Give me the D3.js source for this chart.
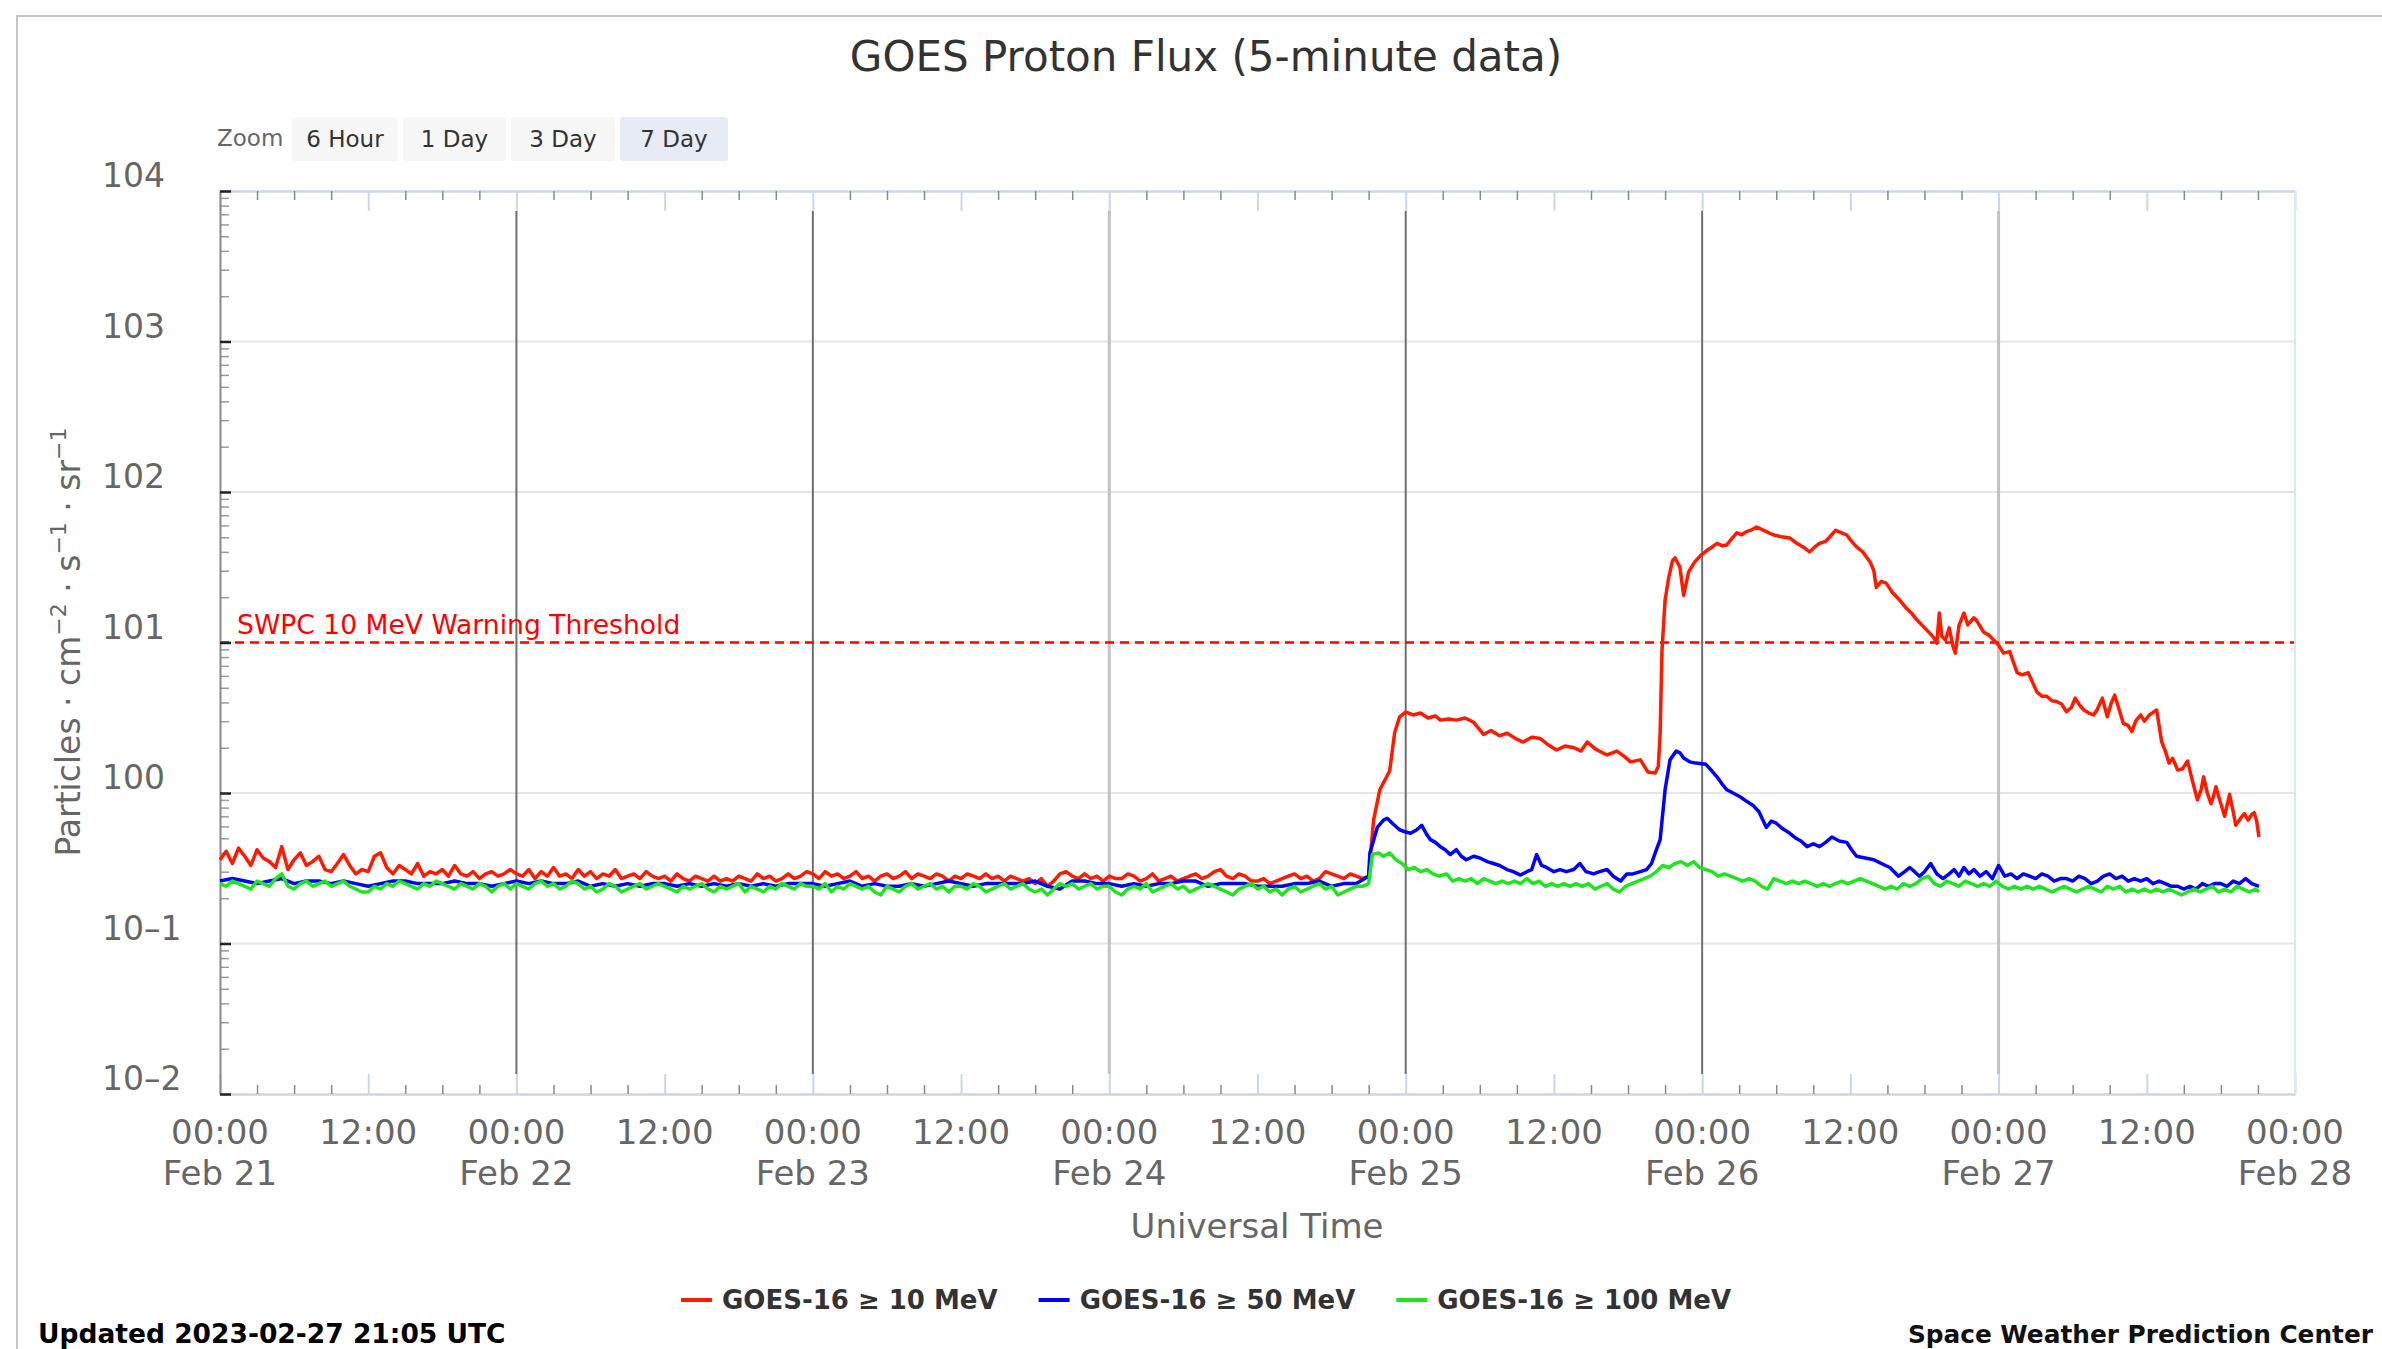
<!DOCTYPE html>
<html lang="en">
<head>
<meta charset="utf-8">
<title>GOES Proton Flux (5-minute data)</title>
<script src="https://d3js.org/d3.v7.min.js"></script>
<style>
  body { margin: 0; background: #fff; }
  svg text { font-family: "DejaVu Sans", Verdana, sans-serif; }
</style>
</head>
<body>
<script>

// ---- data (hours since 2023-02-21 00:00 UTC, flux in pfu) ----
// quiet period before the first event: >=10 and >=100 MeV every 30 min, >=50 MeV every hour
var quiet10 = [0.36,0.41,0.34,0.43,0.38,0.33,0.42,0.37,0.35,0.32,0.44,0.31,0.36,0.40,0.33,0.35,0.38,0.31,0.30,0.34,0.39,0.33,0.29,0.31,
  0.30,0.38,0.40,0.32,0.29,0.33,0.31,0.29,0.34,0.28,0.30,0.29,0.31,0.28,0.33,0.29,0.28,0.30,0.27,0.29,0.30,0.28,0.29,0.31,
  0.29,0.28,0.31,0.27,0.30,0.28,0.32,0.28,0.29,0.27,0.31,0.28,0.30,0.27,0.29,0.28,0.31,0.27,0.28,0.29,0.27,0.30,0.28,0.27,
  0.28,0.26,0.29,0.27,0.26,0.28,0.27,0.26,0.28,0.26,0.27,0.26,0.28,0.27,0.26,0.29,0.27,0.28,0.26,0.27,0.29,0.27,0.28,0.30,
  0.29,0.27,0.30,0.28,0.29,0.27,0.28,0.30,0.27,0.28,0.26,0.28,0.29,0.27,0.28,0.30,0.27,0.29,0.28,0.27,0.29,0.28,0.26,0.28,
  0.27,0.29,0.28,0.27,0.29,0.27,0.28,0.26,0.28,0.27,0.26,0.27,0.25,0.27,0.24,0.26,0.29,0.30,0.28,0.27,0.29,0.27,0.28,0.26,
  0.28,0.27,0.27,0.29,0.28,0.26,0.27,0.29,0.26,0.27,0.28,0.26,0.27,0.28,0.29,0.27,0.28,0.30,0.31,0.28,0.27,0.29,0.28,0.26,
  0.26,0.27,0.25,0.26,0.27,0.28,0.29,0.27,0.28,0.26,0.27,0.30,0.29,0.28,0.27,0.29,0.28,0.27];
var quiet50 = [0.26,0.27,0.26,0.25,0.26,0.27,0.25,0.26,0.26,0.25,0.26,0.25,0.24,0.25,0.26,0.26,0.25,0.25,0.25,0.26,
  0.25,0.25,0.24,0.25,0.26,0.25,0.26,0.25,0.25,0.26,0.24,0.25,0.24,0.25,0.24,0.25,0.25,0.24,0.25,0.24,
  0.25,0.24,0.25,0.24,0.25,0.24,0.25,0.25,0.25,0.24,0.25,0.26,0.24,0.25,0.24,0.24,0.25,0.24,0.25,0.26,
  0.25,0.24,0.25,0.25,0.25,0.25,0.26,0.24,0.23,0.26,0.26,0.25,0.25,0.24,0.25,0.24,0.25,0.25,0.26,0.26,
  0.24,0.25,0.25,0.25,0.24,0.24,0.24,0.25,0.25,0.26,0.24,0.25,0.25];
var quiet100 = [0.25,0.24,0.26,0.25,0.24,0.23,0.26,0.25,0.24,0.27,0.29,0.24,0.23,0.25,0.26,0.24,0.25,0.26,0.24,0.25,0.26,0.24,0.23,0.22,
  0.22,0.24,0.23,0.25,0.24,0.26,0.25,0.24,0.23,0.25,0.24,0.26,0.25,0.24,0.23,0.25,0.24,0.23,0.25,0.24,0.22,0.24,0.25,0.23,
  0.25,0.24,0.23,0.25,0.26,0.24,0.25,0.23,0.24,0.26,0.25,0.23,0.24,0.22,0.23,0.25,0.24,0.22,0.23,0.24,0.25,0.23,0.24,0.25,
  0.24,0.23,0.22,0.24,0.23,0.24,0.25,0.23,0.22,0.24,0.23,0.24,0.25,0.22,0.24,0.23,0.22,0.24,0.23,0.25,0.24,0.23,0.25,0.24,
  0.24,0.23,0.25,0.22,0.24,0.23,0.25,0.24,0.23,0.24,0.22,0.21,0.24,0.23,0.22,0.24,0.25,0.23,0.24,0.25,0.23,0.24,0.22,0.24,
  0.24,0.23,0.25,0.24,0.22,0.23,0.24,0.25,0.23,0.24,0.25,0.23,0.22,0.23,0.21,0.23,0.25,0.24,0.25,0.23,0.24,0.25,0.23,0.24,
  0.24,0.22,0.21,0.23,0.24,0.23,0.25,0.22,0.23,0.24,0.25,0.23,0.24,0.22,0.23,0.24,0.25,0.24,0.23,0.22,0.21,0.23,0.24,0.25,
  0.23,0.24,0.22,0.23,0.21,0.23,0.24,0.22,0.23,0.24,0.25,0.23,0.24,0.21,0.22,0.23,0.24,0.24];
var quietStep = [0.5, 1, 0.5];

// event period, [hour, flux]
var event10 = [[93.0,0.28],[93.4,0.66],[93.9,1.05],[94.7,1.4],[95.1,2.5],[95.5,3.2],[96.0,3.45],[96.6,3.3],[97.2,3.4],
  [97.8,3.15],[98.4,3.25],[98.8,3.05],[99.5,3.1],[100.1,3.05],[100.8,3.15],[101.5,2.95],[102.3,2.45],[102.9,2.6],
  [103.6,2.4],[104.2,2.5],[104.9,2.3],[105.5,2.18],[106.2,2.35],[106.9,2.3],[107.5,2.1],[108.2,1.93],[108.9,2.05],
  [109.6,2.0],[110.2,1.9],[110.7,2.18],[111.4,1.95],[112.3,1.79],[113.1,1.9],[113.7,1.75],[114.2,1.61],[115.0,1.66],
  [115.6,1.38],[116.2,1.36],[116.45,1.5],[116.6,2.5],[116.75,8.9],[117.0,19.1],[117.3,27.2],[117.6,35],[117.8,36.5],
  [118.2,31.6],[118.5,20.6],[118.9,29.4],[119.4,34.3],[119.9,38],[120.4,41],[120.8,43],[121.2,45.6],[121.6,44],
  [122.0,44.5],[122.4,49],[122.8,53.5],[123.2,52],[123.6,54.6],[124.0,56],[124.4,58.5],[124.9,56],[125.4,53.5],
  [125.8,51.8],[126.4,50.5],[127.1,49.4],[127.6,46],[128.2,43],[128.7,40],[129.1,43],[129.5,45.6],[130.0,47],
  [130.4,51],[130.8,55.6],[131.2,54],[131.7,51.8],[132.1,47],[132.5,43.2],[133.0,40],[133.6,34.3],[133.9,30],
  [134.1,23.2],[134.5,25.5],[134.9,24.8],[135.4,21.5],[136.0,19.1],[136.5,17],[137.0,15.5],[137.4,14.1],[137.9,12.8],
  [138.3,11.8],[138.7,10.9],[139.0,9.9],[139.2,15.7],[139.4,11],[139.7,10.4],[140.0,12.5],[140.3,9.5],[140.5,8.5],
  [140.8,13],[141.2,15.7],[141.5,13.1],[142.0,14.6],[142.2,14.1],[142.8,11.7],[143.2,11.2],[143.6,10.4],[144.0,9.6],
  [144.4,8.5],[144.9,8.7],[145.5,6.3],[145.9,6.1],[146.4,6.3],[147.1,4.7],[147.5,4.4],[147.9,4.4],[148.3,4.1],
  [148.7,4.05],[149.1,3.9],[149.5,3.47],[149.9,3.7],[150.2,4.27],[150.6,3.8],[150.9,3.56],[151.3,3.4],[151.7,3.3],
  [152.0,3.6],[152.4,4.27],[152.8,3.21],[153.1,3.9],[153.4,4.47],[153.8,3.5],[154.1,2.9],[154.5,2.8],[154.8,2.56],
  [155.1,3.0],[155.5,3.3],[155.8,3.0],[156.2,3.3],[156.8,3.56],[157.2,2.19],[157.5,1.9],[157.8,1.58],[158.1,1.7],
  [158.5,1.42],[158.9,1.45],[159.3,1.63],[159.7,1.2],[160.1,0.9],[160.4,1.05],[160.6,1.28],[160.9,1.0],[161.2,0.85],
  [161.4,0.95],[161.6,1.1],[161.9,0.9],[162.3,0.70],[162.7,0.98],[163.0,0.75],[163.2,0.61],[163.6,0.68],[163.9,0.73],
  [164.2,0.66],[164.5,0.72],[164.7,0.74],[164.9,0.65],[165.08,0.51]];

var event50 = [[93.0,0.28],[93.1,0.4],[93.7,0.59],[94.2,0.66],[94.5,0.68],[95.0,0.62],[95.5,0.57],[96.0,0.55],[96.4,0.54],
  [96.9,0.57],[97.3,0.61],[97.7,0.53],[98.0,0.49],[98.4,0.47],[98.8,0.44],[99.2,0.42],[99.6,0.39],[100.1,0.42],
  [100.5,0.38],[100.9,0.36],[101.5,0.38],[102.0,0.37],[102.6,0.35],[103.1,0.34],[103.6,0.33],[104.2,0.31],[104.7,0.30],
  [105.3,0.285],[105.8,0.30],[106.2,0.31],[106.6,0.39],[107.0,0.33],[107.4,0.32],[108.0,0.30],[108.5,0.31],[109.0,0.30],
  [109.6,0.31],[110.1,0.34],[110.6,0.30],[111.2,0.29],[111.7,0.30],[112.3,0.31],[112.8,0.28],[113.4,0.26],[113.9,0.29],
  [114.4,0.29],[115.0,0.30],[115.5,0.31],[115.9,0.34],[116.2,0.40],[116.6,0.49],[117.0,1.05],[117.4,1.66],[117.9,1.9],
  [118.2,1.85],[118.5,1.71],[119.0,1.61],[119.5,1.58],[120.3,1.55],[120.8,1.4],[121.2,1.28],[121.6,1.15],[122.0,1.05],
  [122.5,1.0],[123.1,0.94],[123.6,0.88],[124.1,0.83],[124.6,0.75],[125.2,0.59],[125.6,0.65],[126.0,0.63],[126.5,0.58],
  [127.1,0.54],[127.6,0.5],[128.0,0.48],[128.5,0.44],[129.0,0.46],[129.5,0.44],[130.0,0.47],[130.5,0.51],[131.1,0.48],
  [131.7,0.47],[132.1,0.42],[132.5,0.38],[133.2,0.37],[133.9,0.36],[134.5,0.34],[135.2,0.32],[135.9,0.28],[136.4,0.30],
  [136.8,0.32],[137.2,0.30],[137.6,0.28],[138.0,0.30],[138.5,0.34],[139.0,0.29],[139.5,0.27],[140.0,0.29],[140.4,0.31],
  [140.8,0.28],[141.2,0.32],[141.6,0.29],[142.0,0.31],[142.5,0.28],[143.0,0.30],[143.5,0.27],[144.0,0.33],[144.5,0.28],
  [145.0,0.29],[145.5,0.27],[146.0,0.29],[146.5,0.28],[147.0,0.27],[147.5,0.29],[148.0,0.28],[148.5,0.26],[149.0,0.27],
  [149.5,0.27],[150.0,0.26],[150.5,0.28],[151.0,0.27],[151.5,0.25],[152.0,0.26],[152.5,0.28],[153.0,0.29],[153.5,0.27],
  [154.0,0.28],[154.5,0.26],[155.0,0.27],[155.5,0.26],[156.0,0.27],[156.5,0.25],[157.0,0.26],[157.5,0.25],[158.0,0.24],
  [158.5,0.24],[159.0,0.23],[159.5,0.24],[160.0,0.23],[160.5,0.25],[161.0,0.24],[161.5,0.25],[162.0,0.25],[162.5,0.24],
  [163.0,0.26],[163.5,0.25],[164.0,0.27],[164.5,0.25],[165.08,0.24]];

var event100 = [[93.0,0.25],[93.3,0.39],[93.8,0.40],[94.2,0.38],[94.7,0.40],[95.2,0.36],[95.7,0.34],[96.2,0.31],[96.7,0.32],
  [97.2,0.30],[97.7,0.31],[98.2,0.29],[98.7,0.28],[99.3,0.29],[99.8,0.26],[100.3,0.27],[100.8,0.26],[101.3,0.27],
  [101.8,0.25],[102.3,0.27],[102.8,0.26],[103.3,0.25],[103.8,0.26],[104.3,0.25],[104.8,0.26],[105.3,0.25],[105.8,0.27],
  [106.3,0.25],[106.8,0.26],[107.3,0.24],[107.8,0.25],[108.3,0.24],[108.8,0.25],[109.3,0.24],[109.8,0.25],[110.3,0.24],
  [110.8,0.25],[111.3,0.23],[111.8,0.24],[112.3,0.25],[112.8,0.23],[113.3,0.22],[113.8,0.24],[114.3,0.25],[114.8,0.26],
  [115.3,0.27],[115.8,0.28],[116.3,0.30],[116.8,0.33],[117.3,0.32],[117.8,0.34],[118.3,0.35],[118.8,0.33],[119.3,0.35],
  [119.8,0.32],[120.3,0.31],[120.8,0.30],[121.3,0.28],[121.8,0.29],[122.3,0.28],[122.8,0.27],[123.3,0.26],[123.8,0.27],
  [124.3,0.26],[124.8,0.24],[125.3,0.23],[125.8,0.27],[126.3,0.26],[126.8,0.25],[127.3,0.26],[127.8,0.25],[128.3,0.26],
  [128.8,0.25],[129.3,0.24],[129.8,0.25],[130.3,0.24],[130.8,0.25],[131.3,0.26],[131.8,0.25],[132.3,0.26],[132.8,0.27],
  [133.3,0.26],[133.8,0.25],[134.3,0.24],[134.8,0.23],[135.3,0.24],[135.8,0.23],[136.3,0.25],[136.8,0.24],[137.3,0.25],
  [137.8,0.27],[138.3,0.28],[138.8,0.25],[139.3,0.24],[139.8,0.26],[140.3,0.25],[140.8,0.24],[141.3,0.26],[141.8,0.25],
  [142.3,0.24],[142.8,0.25],[143.3,0.24],[143.8,0.26],[144.3,0.24],[144.8,0.23],[145.3,0.24],[145.8,0.23],[146.3,0.24],
  [146.8,0.23],[147.3,0.24],[147.8,0.23],[148.3,0.22],[148.8,0.23],[149.3,0.24],[149.8,0.23],[150.3,0.22],[150.8,0.23],
  [151.3,0.24],[151.8,0.23],[152.3,0.22],[152.8,0.24],[153.3,0.23],[153.8,0.24],[154.3,0.22],[154.8,0.23],[155.3,0.22],
  [155.8,0.23],[156.3,0.22],[156.8,0.23],[157.3,0.22],[157.8,0.23],[158.3,0.22],[158.8,0.21],[159.3,0.22],[159.8,0.23],
  [160.3,0.22],[160.8,0.23],[161.3,0.24],[161.8,0.22],[162.3,0.23],[162.8,0.22],[163.3,0.24],[163.8,0.23],[164.3,0.22],
  [164.8,0.23],[165.08,0.22]];

var seriesNames = ["GOES-16 \u2265 10 MeV", "GOES-16 \u2265 50 MeV", "GOES-16 \u2265 100 MeV"];
var seriesColors = ["#ff1a00", "#0000ff", "#1ee61e"];
var yTickValues = [1e4, 1e3, 1e2, 1e1, 1e0, 1e-1, 1e-2];
var yTickLabels = ["104", "103", "102", "101", "100", "10\u20131", "10\u20132"];
var threshold = 10;
var zoomButtons = ["6 Hour", "1 Day", "3 Day", "7 Day"];

// ---- layout ----
var w = 2382, h = 1349;
var pLeft = 220, pRight = 2295, pTop = 191, pBottom = 1094;
var start = Date.UTC(2023, 1, 21), end = Date.UTC(2023, 1, 28);

function hourDate(hr) { return new Date(start + hr * 3600e3); }

var x = d3.scaleUtc().domain([new Date(start), new Date(end)]).range([pLeft, pRight]);
var y = d3.scaleLog().domain([1e-2, 1e4]).range([pBottom, pTop]);

var svg = d3.select("body").append("svg")
  .attr("width", w).attr("height", h)
  .style("display", "block");

// outer frame
svg.append("rect")
  .attr("x", 17).attr("y", 16).attr("width", 2440).attr("height", 1400)
  .attr("fill", "none").attr("stroke", "#c4c4c4").attr("stroke-width", 2);

// title
svg.append("text")
  .attr("x", 1206).attr("y", 71)
  .attr("text-anchor", "middle")
  .style("font-size", "42px").attr("fill", "#333")
  .text("GOES Proton Flux (5-minute data)");

// range selector buttons
svg.append("text")
  .attr("x", 217).attr("y", 146)
  .style("font-size", "23px").attr("fill", "#666")
  .text("Zoom");
var btnX = [292, 403, 511, 620], btnW = [106, 103, 104, 108];
var btn = svg.selectAll("g.btn").data(zoomButtons).enter().append("g").attr("class", "btn");
btn.append("rect")
  .attr("x", function(d, i) { return btnX[i]; })
  .attr("y", 117).attr("width", function(d, i) { return btnW[i]; }).attr("height", 44)
  .attr("rx", 3)
  .attr("fill", function(d, i) { return i == 3 ? "#e6ebf5" : "#f7f7f7"; });
btn.append("text")
  .attr("x", function(d, i) { return btnX[i] + btnW[i] / 2; })
  .attr("y", 147)
  .attr("text-anchor", "middle")
  .style("font-size", "23px").attr("fill", "#333")
  .text(function(d) { return d; });

// horizontal grid at decades
svg.append("g").selectAll("line")
  .data(yTickValues.slice(1, -1))
  .enter().append("line")
  .attr("x1", pLeft).attr("x2", pRight)
  .attr("y1", function(d) { return y(d); }).attr("y2", function(d) { return y(d); })
  .attr("stroke", "#e6e6e6").attr("stroke-width", 2);

// midnight plot lines
var days = d3.utcDay.range(new Date(start + 1), new Date(end));
svg.append("g").selectAll("line")
  .data(days)
  .enter().append("line")
  .attr("x1", function(d) { return x(d); }).attr("x2", function(d) { return x(d); })
  .attr("y1", pTop + 20).attr("y2", pBottom - 20)
  .attr("stroke", function(d, i) { return (i == 2 || i == 5) ? "#c2c2c2" : "#6f6f6f"; })
  .attr("stroke-width", function(d, i) { return (i == 2 || i == 5) ? 3 : 2; });

// warning threshold
svg.append("line")
  .attr("x1", pLeft).attr("x2", pRight)
  .attr("y1", y(threshold)).attr("y2", y(threshold))
  .attr("stroke", "#ff0000").attr("stroke-width", 2.5)
  .attr("stroke-dasharray", "9,6");
svg.append("text")
  .attr("x", 237).attr("y", y(threshold) - 9)
  .style("font-size", "26.6px").attr("fill", "#ff0000")
  .text("SWPC 10 MeV Warning Threshold");

// axes: bottom and top (time)
var ticks12 = d3.utcHour.every(12).range(new Date(start), new Date(end + 1));
var ticks3 = d3.utcHour.every(3).range(new Date(start), new Date(end + 1))
  .filter(function(d) { return d.getUTCHours() % 12 != 0; });

function styleTimeAxis(g) {
  g.select(".domain").attr("stroke", "#ccd6eb").attr("stroke-width", 2);
  g.selectAll(".tick line").attr("stroke-width", 2);
  g.selectAll(".tick text").remove();
}

var xMajB = svg.append("g").attr("transform", "translate(0," + pBottom + ")")
  .call(d3.axisBottom(x).tickValues(ticks12).tickSize(-20).tickSizeOuter(0).tickFormat(""));
styleTimeAxis(xMajB);
xMajB.selectAll(".tick line").attr("stroke", "#ccd6eb");
var xMinB = svg.append("g").attr("transform", "translate(0," + pBottom + ")")
  .call(d3.axisBottom(x).tickValues(ticks3).tickSize(-9).tickSizeOuter(0).tickFormat(""));
styleTimeAxis(xMinB);
xMinB.selectAll(".tick line").attr("stroke", "#8a8a8a").attr("stroke-width", 1.5);

var xMajT = svg.append("g").attr("transform", "translate(0," + pTop + ")")
  .call(d3.axisTop(x).tickValues(ticks12).tickSize(-20).tickSizeOuter(0).tickFormat(""));
styleTimeAxis(xMajT);
xMajT.selectAll(".tick line").attr("stroke", "#ccd6eb");
var xMinT = svg.append("g").attr("transform", "translate(0," + pTop + ")")
  .call(d3.axisTop(x).tickValues(ticks3).tickSize(-9).tickSizeOuter(0).tickFormat(""));
styleTimeAxis(xMinT);
xMinT.selectAll(".tick line").attr("stroke", "#8a8a8a").attr("stroke-width", 1.5);

// right border
svg.append("line")
  .attr("x1", pRight).attr("x2", pRight).attr("y1", pTop).attr("y2", pBottom)
  .attr("stroke", "#dfe6f3").attr("stroke-width", 2);

// time labels
var fmtTime = d3.utcFormat("%H:%M"), fmtDay = d3.utcFormat("%b %d");
var xl = svg.append("g").selectAll("text")
  .data(ticks12).enter().append("text")
  .attr("text-anchor", "middle")
  .style("font-size", "34px").attr("fill", "#666");
xl.append("tspan")
  .attr("x", function(d) { return x(d); }).attr("y", 1144)
  .text(fmtTime);
xl.filter(function(d) { return d.getUTCHours() == 0; })
  .append("tspan")
  .attr("x", function(d) { return x(d); }).attr("y", 1185)
  .text(fmtDay);

svg.append("text")
  .attr("x", 1257).attr("y", 1238)
  .attr("text-anchor", "middle")
  .style("font-size", "34px").attr("fill", "#666")
  .text("Universal Time");

// y axis (log)
var minorTicks = [];
for (var e = -2; e < 4; e++) for (var m = 2; m < 10; m++) minorTicks.push(m * Math.pow(10, e));

var yMin = svg.append("g").attr("transform", "translate(" + pLeft + ",0)")
  .call(d3.axisRight(y).tickValues(minorTicks).tickSize(9).tickSizeOuter(0).tickFormat(""));
yMin.select(".domain").remove();
yMin.selectAll(".tick line").attr("stroke", "#9a9a9a").attr("stroke-width", 1.5);

var yMaj = svg.append("g").attr("transform", "translate(" + pLeft + ",0)")
  .call(d3.axisRight(y).tickValues(yTickValues).tickSize(11).tickSizeOuter(0).tickFormat(""));
yMaj.select(".domain").attr("stroke", "#8a8a8a").attr("stroke-width", 2);
yMaj.selectAll(".tick line").attr("stroke", "#222").attr("stroke-width", 2.5);

svg.append("g").selectAll("text")
  .data(yTickValues).enter().append("text")
  .attr("x", 102).attr("y", function(d) { return y(d) - 4; })
  .style("font-size", "33px").attr("fill", "#666")
  .text(function(d, i) { return yTickLabels[i]; });

// y axis title
var yt = svg.append("text")
  .attr("transform", "translate(80,642) rotate(-90)")
  .attr("text-anchor", "middle")
  .style("font-size", "33px").attr("fill", "#666");
yt.append("tspan").text("Particles \u00b7 cm");
yt.append("tspan").attr("dy", -14).style("font-size", "22px").text("\u22122");
yt.append("tspan").attr("dy", 14).text(" \u00b7 s");
yt.append("tspan").attr("dy", -14).style("font-size", "22px").text("\u22121");
yt.append("tspan").attr("dy", 14).text(" \u00b7 sr");
yt.append("tspan").attr("dy", -14).style("font-size", "22px").text("\u22121");

// series
var quiet = [quiet10, quiet50, quiet100], events = [event10, event50, event100];
var series = quiet.map(function(q, k) {
  return q.map(function(v, i) { return [i * quietStep[k], v]; }).concat(events[k]);
});

var line = d3.line()
  .x(function(d) { return x(hourDate(d[0])); })
  .y(function(d) { return y(d[1]); });

svg.append("g").selectAll("path")
  .data(series).enter().append("path")
  .attr("d", line)
  .attr("fill", "none")
  .attr("stroke", function(d, i) { return seriesColors[i]; })
  .attr("stroke-width", 3.5)
  .attr("stroke-linejoin", "round");

// legend
var lg = svg.append("g");
var items = lg.selectAll("g").data(seriesNames).enter().append("g");
items.append("line")
  .attr("x1", 0).attr("x2", 31).attr("y1", 1300).attr("y2", 1300)
  .attr("stroke", function(d, i) { return seriesColors[i]; })
  .attr("stroke-width", 4);
items.append("text")
  .attr("x", 41).attr("y", 1309)
  .style("font-size", "26px").style("font-weight", "bold").attr("fill", "#333")
  .text(function(d) { return d; });
var pos = 0, offs = [];
items.each(function() {
  offs.push(pos);
  pos += 41 + d3.select(this).select("text").node().getComputedTextLength() + 41;
});
var total = pos - 41;
var lx0 = 1206 - total / 2;
items.attr("transform", function(d, i) { return "translate(" + (lx0 + offs[i]) + ",0)"; });

// footer
svg.append("text")
  .attr("x", 38).attr("y", 1343)
  .style("font-size", "26.5px").style("font-weight", "bold").attr("fill", "#000")
  .text("Updated 2023-02-27 21:05 UTC");
svg.append("text")
  .attr("x", 2373).attr("y", 1343)
  .attr("text-anchor", "end")
  .style("font-size", "24.8px").style("font-weight", "bold").attr("fill", "#111")
  .text("Space Weather Prediction Center");

</script>
</body>
</html>
